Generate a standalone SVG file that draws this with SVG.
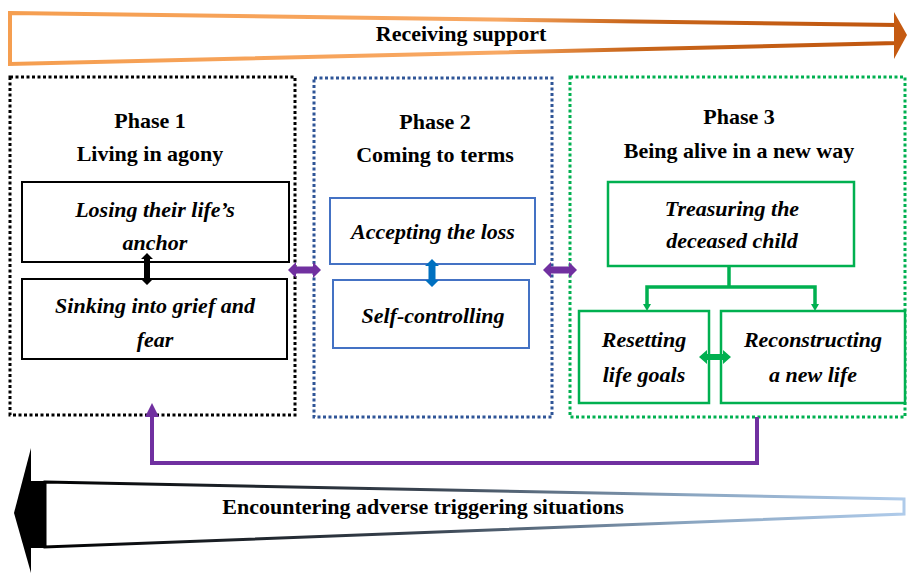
<svg xmlns="http://www.w3.org/2000/svg" width="907" height="574" viewBox="0 0 907 574">
<defs>
<style>
.hd{font-family:"Liberation Serif","Times New Roman",serif;font-weight:bold;font-size:22px;fill:#000;text-anchor:middle}
.it{font-family:"Liberation Serif","Times New Roman",serif;font-weight:bold;font-style:italic;font-size:22px;fill:#000;text-anchor:middle}
.ph1{fill:none;stroke:#000;stroke-width:3;stroke-dasharray:3 2.5}
.ph2{fill:none;stroke:#2F5597;stroke-width:3;stroke-dasharray:3 2.5}
.ph3{fill:none;stroke:#00B050;stroke-width:3;stroke-dasharray:3 2.5}
.b1{fill:#fff;stroke:#000;stroke-width:2}
.b2{fill:#fff;stroke:#4472C4;stroke-width:2}
.b3{fill:#fff;stroke:#00B050;stroke-width:2.5}
</style>
<linearGradient id="gTop" x1="0" y1="0" x2="1" y2="0">
<stop offset="0" stop-color="#F59E50"/>
<stop offset="0.55" stop-color="#F8A863"/>
<stop offset="0.7" stop-color="#C8651A"/>
<stop offset="1" stop-color="#C0560F"/>
</linearGradient>
<linearGradient id="gBot" x1="0" y1="0" x2="1" y2="0">
<stop offset="0" stop-color="#000"/>
<stop offset="0.45" stop-color="#3A4552"/>
<stop offset="0.75" stop-color="#8AA5C0"/>
<stop offset="1" stop-color="#AFCBEA"/>
</linearGradient>
</defs>

<g id="receiving-support">
<polygon points="10,13 896,25 896,43 10,64" fill="#fff" stroke="url(#gTop)" stroke-width="4"/>
<polygon points="894,12 907,35 894,59" fill="#C55A11"/>
<text class="hd" x="461" y="41">Receiving support</text>
</g>

<g id="adverse-situations">
<polygon points="45,482 904,499 904,514 45,547" fill="#fff" stroke="url(#gBot)" stroke-width="3"/>
<rect x="31" y="481" width="15" height="67" fill="#000"/>
<polygon points="31,448 14,513 31,573" fill="#000"/>
<text class="hd" x="423" y="514">Encountering adverse triggering situations</text>
</g>

<g id="phase1">
<rect class="ph1" x="10" y="77" width="285" height="338"/>
<text class="hd" x="150" y="128">Phase 1</text>
<text class="hd" x="150" y="161">Living in agony</text>
</g>
<g id="losing-anchor">
<rect class="b1" x="22" y="182" width="267" height="80"/>
<text class="it" x="155" y="217">Losing their life’s</text>
<text class="it" x="155" y="250">anchor</text>
</g>
<g id="sinking-grief">
<rect class="b1" x="22" y="279" width="265" height="80"/>
<text class="it" x="155" y="313">Sinking into grief and</text>
<text class="it" x="155" y="347">fear</text>
</g>

<g id="phase2">
<rect class="ph2" x="314" y="78" width="238" height="339"/>
<text class="hd" x="435" y="129">Phase 2</text>
<text class="hd" x="435" y="162">Coming to terms</text>
</g>
<g id="accepting-loss">
<rect class="b2" x="330" y="198" width="205" height="66"/>
<text class="it" x="433" y="239">Accepting the loss</text>
</g>
<g id="self-controlling">
<rect class="b2" x="333" y="280" width="196" height="68"/>
<text class="it" x="433" y="323">Self-controlling</text>
</g>

<g id="phase3">
<rect class="ph3" x="570" y="77" width="335" height="340"/>
<text class="hd" x="739" y="124">Phase 3</text>
<text class="hd" x="739" y="158">Being alive in a new way</text>
</g>
<g id="treasuring-child">
<rect class="b3" x="608" y="182" width="246" height="84"/>
<text class="it" x="732" y="216">Treasuring the</text>
<text class="it" x="732" y="248">deceased child</text>
</g>
<g id="resetting-goals">
<rect class="b3" x="579" y="311" width="130" height="92"/>
<text class="it" x="644" y="347">Resetting</text>
<text class="it" x="644" y="382">life goals</text>
</g>
<g id="reconstructing-life">
<rect class="b3" x="721" y="311" width="184" height="92"/>
<text class="it" x="813" y="347">Reconstructing</text>
<text class="it" x="813" y="382">a new life</text>
</g>

<g id="connectors">
<polygon fill="#000" points="147,253 153,259 150,259 150,279 153,279 147,285 141,279 144,279 144,259 141,259"/>
<polygon fill="#7030A0" points="288,270 296,262 296,266.5 313,266.5 313,262 321,270 313,278 313,273.5 296,273.5 296,278"/>
<polygon fill="#7030A0" points="543,270 551,262 551,266.5 569,266.5 569,262 577,270 569,278 569,273.5 551,273.5 551,278"/>
<polygon fill="#0070C0" points="432,259 439,266 435.5,266 435.5,280 439,280 432,287 425,280 428.5,280 428.5,266 425,266"/>
<polygon fill="#00B050" points="699,357 707,350 707,354 723,354 723,350 731,357 723,364 723,360 707,360 707,364"/>
<polyline points="729,266 729,287" fill="none" stroke="#00B050" stroke-width="3.5"/>
<polyline points="647,305 647,287 815,287 815,305" fill="none" stroke="#00B050" stroke-width="3.5"/>
<polygon fill="#00B050" points="643,304 651,304 647,311"/>
<polygon fill="#00B050" points="811,304 819,304 815,311"/>
<polyline points="757,417 757,463 152,463 152,414" fill="none" stroke="#7030A0" stroke-width="4"/>
<polygon fill="#7030A0" points="145,417 152,403 159,417"/>
</g>
</svg>
